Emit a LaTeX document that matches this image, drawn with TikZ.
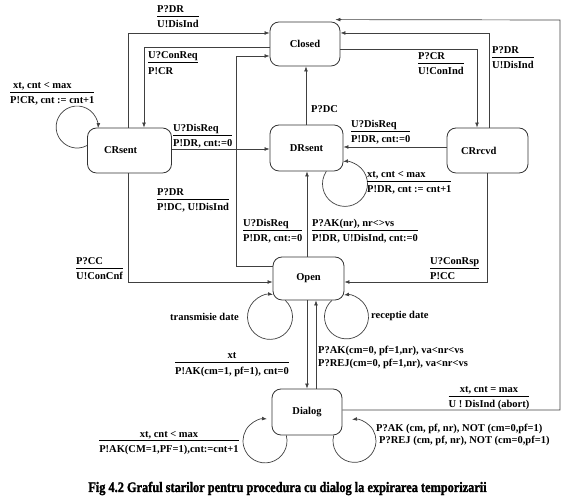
\documentclass[tikz,border=0pt]{standalone}
\usepackage{fontspec}
\usepackage{graphicx}
\setmainfont{Liberation Serif}
\newfontfamily\capfont[BoldFeatures={FakeBold=1.6}]{Liberation Serif}
\usetikzlibrary{arrows.meta}
\renewcommand\arraystretch{0.5}
\setlength\arrayrulewidth{0.6pt}
\newcommand\lfont{\fontsize{10.5}{12.5}\selectfont\bfseries}
\newcommand\LabL[2]{\begin{tabular}[t]{@{}l@{}}\rule[-3.3pt]{0pt}{12.3pt}#1\\\hline\rule[-3pt]{0pt}{14.4pt}#2\end{tabular}}
\newcommand\LabC[2]{\begin{tabular}[t]{@{}c@{}}\rule[-3.3pt]{0pt}{12.3pt}#1\\\hline\rule[-3pt]{0pt}{14.4pt}#2\end{tabular}}
\newcommand\TwoL[3]{\begin{tabular}[t]{@{}l@{}}\rule[-#1]{0pt}{12pt}#2\\\rule[-3pt]{0pt}{12pt}#3\end{tabular}}
\begin{document}
\begin{tikzpicture}[x=1pt,y=1pt,
  state/.style={draw=black!80, line width=0.8pt, rounded corners=9pt, inner sep=0pt, font=\lfont},
  arr/.style={draw=black!75, line width=0.7pt, -{Latex[length=5pt,width=3.8pt]}},
  lab/.style={inner sep=0pt, font=\lfont, anchor=base west},
  labc/.style={inner sep=0pt, font=\lfont, anchor=base}]
\useasboundingbox (0,0) rectangle (575,502);
% states
\node[state, minimum width=70pt, minimum height=44pt] (Closed) at (305,458) {Closed};
\node[state, minimum width=84pt, minimum height=45pt, text width=51pt, inner xsep=16pt, align=left] (CRsent) at (129.5,351.5) {CRsent};
\node[state, minimum width=73pt, minimum height=46pt] (DRsent) at (306.5,354) {DRsent};
\node[state, minimum width=81pt, minimum height=45pt, text width=53pt, inner xsep=14pt, align=left] (CRrcvd) at (487.5,351.5) {CRrcvd};
\node[state, minimum width=71pt, minimum height=43pt] (Open) at (308.5,223.5) {Open};
\node[state, minimum width=70pt, minimum height=46pt] (Dialog) at (307,90) {Dialog};
% connectors
\draw[arr] (CRsent.north -| 128,0) |- (Closed.west |- 0,469);
\draw[arr] (Closed.west |- 0,455) -| (CRsent.north -| 144,0);
\draw[arr] (Open.west |- 0,236) -| (236,446) -- (Closed.west |- 0,446);
\draw[arr] (CRsent.east |- 0,353) -- (DRsent.west |- 0,353);
\draw[arr] (DRsent.north -| 306,0) -- (Closed.south -| 306,0);
\draw[arr] (Closed.east |- 0,453) -| (CRrcvd.north -| 477,0);
\draw[arr] (CRrcvd.north -| 489,0) |- (Closed.east |- 0,469);
\draw[arr] (Dialog.east |- 0,92) -| (560,482) -- ([shift={(-5pt,2pt)}]Closed.north east);
\draw[arr] (CRrcvd.west |- 0,355) -- (DRsent.east |- 0,355);
\draw[arr] (Open.north -| 307,0) -- (DRsent.south -| 307,0);
\draw[arr] (CRsent.south -| 128,0) |- (Open.west |- 0,220);
\draw[arr] (CRrcvd.south -| 487,0) |- (Open.east |- 0,220);
\draw[arr] (Open.south -| 307,0) -- (Dialog.north -| 307,0);
\draw[arr] (Dialog.north -| 316,0) -- (Open.south -| 316,0);
% loops
\draw[arr] ([yshift=5pt]CRsent.west) arc[start angle=-61.6, end angle=-363, radius=21pt];
\draw[arr] ([xshift=19.8pt]DRsent.south) arc[start angle=146.2, end angle=455, radius=22.5pt];
\draw[arr] ([xshift=-23.2pt]Open.south) arc[start angle=47.2, end angle=-277.7, radius=22.5pt];
\draw[arr] ([xshift=23.4pt]Open.south) arc[start angle=131.5, end angle=456.5, radius=22pt];
\draw[arr] ([xshift=-20.7pt]Dialog.south) arc[start angle=14.5, end angle=-275.2, radius=22pt];
\draw[arr] ([xshift=26.7pt]Dialog.south) arc[start angle=165.2, end angle=456.7, radius=21.5pt];
% labels
\node[lab] (l1) at (157,489.6) {\LabL{P?DR}{U!DisInd}};
\node[lab] (l2) at (148,443.1) {\LabL{U?ConReq}{P!CR}};
\node[lab] (l3) at (10,413.6) {\LabL{\hspace*{3pt}xt, cnt < max}{P!CR, cnt := cnt+1}};
\node[lab] (l4) at (173,370.6) {\LabL{U?DisReq}{P!DR, cnt:=0}};
\node[lab] (l5) at (311,389) {P?DC};
\node[lab] (l6) at (418,442.6) {\LabL{P?CR}{U!ConInd}};
\node[lab] (l7) at (492,448.6) {\LabL{P?DR}{U!DisInd}};
\node[lab] (l8) at (351,374.6) {\LabL{U?DisReq}{P!DR, cnt:=0}};
\node[lab] (l9) at (367,324.6) {\LabL{xt, cnt < max}{P!DR, cnt := cnt+1}};
\node[lab] (l10) at (157,306.6) {\LabL{P?DR}{P!DC, U!DisInd}};
\node[lab] (l11) at (243,275.6) {\LabL{U?DisReq}{P!DR, cnt:=0}};
\node[lab] (l12) at (312,275.6) {\LabL{P?AK(nr), nr<>vs}{P!DR, U!DisInd, cnt:=0}};
\node[lab] (l13) at (76,237.6) {\LabL{P?CC}{U!ConCnf}};
\node[lab] (l14) at (430,237.6) {\LabL{U?ConRsp}{P!CC}};
\node[lab] (l15) at (170,181.5) {transmisie date};
\node[lab] (l16) at (371,183.5) {receptie date};
\node[labc] (l17) at (232,143.1) {\LabC{xt}{P!AK(cm=1, pf=1), cnt=0}};
\node[lab] (l18) at (318,148.5) {\TwoL{4pt}{P?AK(cm=0, pf=1,nr), va<nr<vs}{P?REJ(cm=0, pf=1,nr), va<nr<vs}};
\node[labc] (l19) at (489,109.6) {\LabC{xt, cnt = max}{U ! DisInd (abort)}};
\node[labc] (l20) at (169,64.9) {\LabC{xt, cnt < max}{P!AK(CM=1,PF=1),cnt:=cnt+1}};
\node[lab] (l21) at (376,70) {\TwoL{3pt}{P?AK (cm, pf, nr), NOT (cm=0,pf=1)}{\hspace*{3pt}P?REJ (cm, pf, nr), NOT (cm=0,pf=1)}};
% caption
\node[labc] (cap) at (287.5,10) {\scalebox{0.85}[1]{\capfont\fontsize{14.5}{16}\selectfont\bfseries Fig 4.2 Graful starilor pentru procedura cu dialog la expirarea temporizarii}};
\end{tikzpicture}
\end{document}
